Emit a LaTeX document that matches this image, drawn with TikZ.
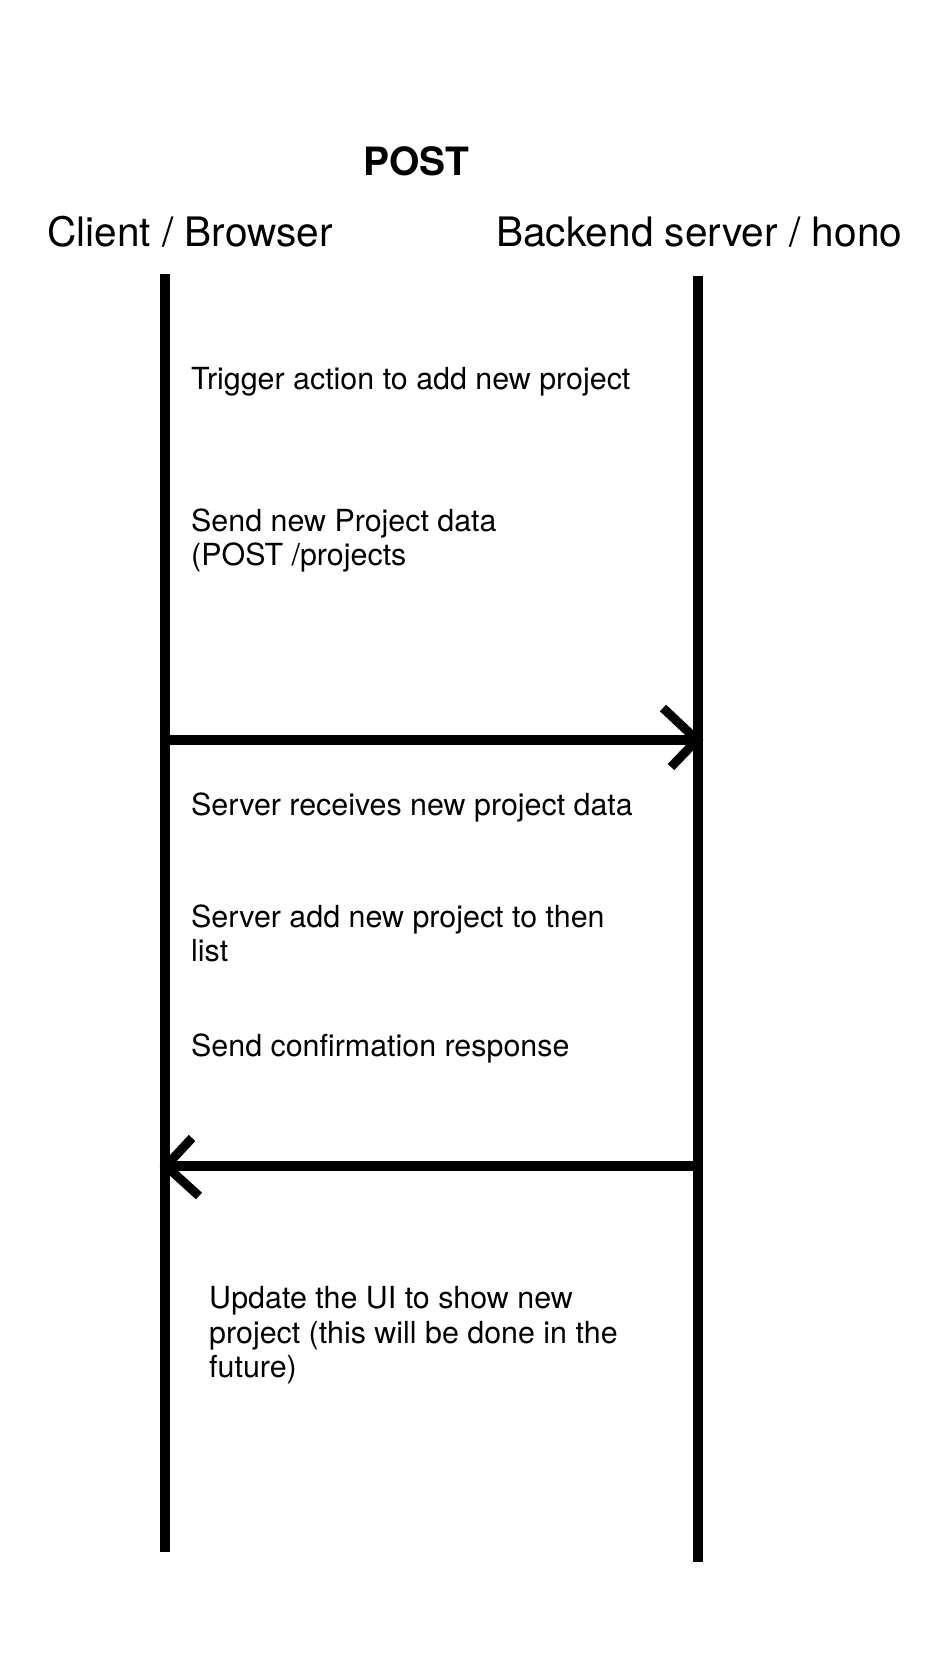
\documentclass[tikz,border=0pt]{standalone}
\usepackage{fontspec}
\setmainfont{TeX Gyre Heros}
\begin{document}
\begin{tikzpicture}[x=1pt,y=-1pt,
  lifeline/.style={line width=10pt,line cap=butt},
  msg/.style={line width=10pt,line cap=butt},
  barb/.style={line width=9pt,line cap=butt,line join=miter},
  note/.style={anchor=base west,inner sep=0pt,align=left,
    font=\fontsize{30.4}{34.5}\selectfont},
  actor/.style={anchor=base west,inner sep=0pt,font=\fontsize{40.6}{46}\selectfont},
  titlebox/.style={anchor=base,inner sep=0pt,font=\fontsize{39}{44}\selectfont\bfseries}]
\fill[white] (0,0) rectangle (942,1662);
\useasboundingbox (0,0) rectangle (942,1662);

% headings
\node[titlebox] (title) at (416,175) {POST};
\node[actor] (client) at (47,246) {Client / Browser};
\node[actor] (server) at (496,246) {Backend server / hono};

% lifelines
\coordinate (ctop) at (164.5,274);
\coordinate (cbot) at (164.5,1552);
\coordinate (stop) at (697.5,276);
\coordinate (sbot) at (697.5,1562);
\draw[lifeline] (ctop) -- (cbot);
\draw[lifeline] (stop) -- (sbot);

% message 1: client -> server
\coordinate (m1a) at (164.5,740);
\coordinate (m1b) at (697,740);
\draw[msg] (m1a) -- (m1b);
\draw[barb] (663,708) -- (m1b) -- (671,767);

% message 2: server -> client
\coordinate (m2a) at (697.5,1166);
\coordinate (m2b) at (166,1166);
\draw[msg] (m2a) -- (m2b);
\draw[barb] (192,1138) -- (m2b) -- (199,1196);

% notes (base anchor = baseline of the last line)
\node[note] (n1) at (191,389) {Trigger action to add new project};
\node[note] (n2) at (191,565.7) {Send new Project data\\(POST /projects};
\node[note] (n3) at (191,815) {Server receives new project data};
\node[note] (n4) at (191,961.7) {Server add new project to then\\list};
\node[note] (n5) at (191,1056) {Send confirmation response};
\node[note] (n6) at (209,1377.7) {Update the UI to show new\\project (this will be done in the\\future)};
\end{tikzpicture}
\end{document}
